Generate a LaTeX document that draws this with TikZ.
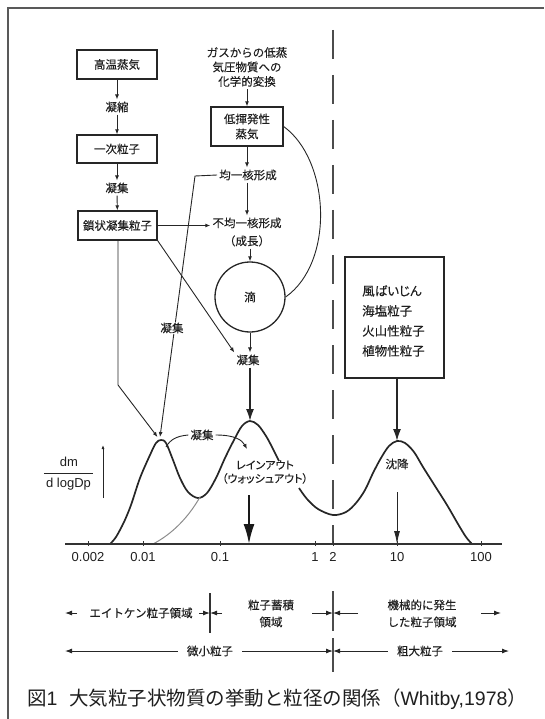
\documentclass[tikz,border=0pt]{standalone}
\usepackage{fontspec}
\setmainfont{Noto Sans CJK JP}[FakeBold=0.2]
\newfontfamily\pfont{Noto Sans CJK JP}[RawFeature=+palt,FakeBold=0.2]
\newfontfamily\capfont{Noto Sans CJK JP}
\newfontfamily\lat{Liberation Sans}
\usetikzlibrary{arrows.meta}
\begin{document}
\begin{tikzpicture}[x=1pt,y=-1pt,
  every node/.style={inner sep=2pt,text=black!88},
  t/.style={font=\fontsize{11.5}{14.5}\selectfont},
  box/.style={draw=black!85,line width=1.3pt,align=center,font=\fontsize{11.5}{15}\selectfont,inner sep=0pt},
  conn/.style={draw=black!85,line width=0.9pt},
  sa/.style={conn,-{Latex[length=5pt,width=4pt]}},
  ra/.style={conn,-{Latex[length=7pt,width=5pt]}},
  mid/.style={draw=black!85,line width=1.6pt,-{Latex[length=12pt,width=8pt]}},
  big/.style={draw=black!90,line width=2pt,-{Latex[length=20pt,width=11pt]}},
  dist/.style={draw=black!85,line width=1.7pt},
  divd/.style={draw=black!70,line width=1.4pt,dash pattern=on 29pt off 16pt},
  row/.style={font=\fontsize{11.5}{17}\selectfont,align=center,inner sep=7pt},
  num/.style={font=\lat\fontsize{13}{15}\selectfont}
]
\useasboundingbox (0,0) rectangle (544,719);
% frame
\draw[black!65,line width=1.6pt] (8,719) -- (8,8) -- (544,8);

% left column
\node[box,minimum width=80pt,minimum height=29pt] (b1) at (117,64.5) {高温蒸気};
\node[t] (n1) at (117,107) {凝縮};
\node[box,minimum width=80pt,minimum height=28pt] (b2) at (117,149) {一次粒子};
\node[t] (n2) at (117,188) {凝集};
\node[box,minimum width=79pt,minimum height=29pt] (b3) at (117.5,225.5) {鎖状凝集粒子};
\draw[sa] (b1) -- (n1);
\draw[sa] (n1) -- (b2);
\draw[sa] (b2) -- (n2);
\draw[sa] (n2) -- (b3);

% middle column
\node[t,align=center] (gas) at (247,67) {ガスからの低蒸\\気圧物質への\\化学的変換};
\node[box,minimum width=72pt,minimum height=39pt] (b4) at (247,126.5) {低揮発性\\蒸気};
\node[t] (hom) at (248,175) {均一核形成};
\node[t,align=center,font=\fontsize{11.5}{18}\selectfont] (het) at (247,232) {不均一核形成\\（成長）};
\node[circle,draw=black!85,line width=1.3pt,minimum size=70pt,inner sep=0pt,font=\fontsize{11.5}{14}\selectfont] (drop) at (250,297) {滴};
\node[t] (agg2) at (248,360) {凝集};
\draw[sa] (gas.south -| b4) -- (b4.north);
\draw[sa] (b4.south) -- (b4.south |- hom.north);
\draw[sa] (b4.south |- hom.south) -- (b4.south |- het.north);
\draw[sa] (het.south -| drop) -- (drop.north);
\draw[sa] (drop.south) -- (drop.south |- agg2.north);
\draw[conn] (b4.east) .. controls (330,160) and (335,262) .. (drop.east);

% peaks
\coordinate (p1) at (160,440);
\coordinate (p1a) at (157.5,437);
\coordinate (p1b) at (160,437);
\coordinate (p2) at (250,421);
\coordinate (p3) at (397,441);

% connectors from chain agglomerates
\coordinate (bend) at (118,385);
\draw[sa] (b3.south -| bend) -- (bend) -- (p1a);
\draw[sa] (b3.south east) -- (agg2.north west);
\draw[sa] (b3.east) -- (het.west |- b3.east);
\coordinate (hk) at (195,176);
\draw[sa] (hom.west) -- (hk) -- (p1b);
\node[t,fill=white,inner sep=1pt] (agg1) at (172,328) {凝集};

% dashed divider
\coordinate (dtop) at (333,30);
\coordinate (dbot) at (333,544);
\draw[divd] (dtop) -- (dbot);

% coarse sources box
\node[draw=black!85,line width=1.3pt,minimum width=99pt,minimum height=121pt,inner sep=0pt] (b5) at (394.5,317.5) {};
\node[font=\pfont\fontsize{12.5}{20}\selectfont,align=left,anchor=west] (b5t) at (360,321) {風ばいじん\\海塩粒子\\火山性粒子\\植物性粒子};
\draw[mid] (b5.south -| p3) -- (p3);

% big arrow into accumulation peak
\draw[mid] (agg2.south -| p2) -- (p2);

% distribution curve
\draw[dist] plot[smooth,tension=0.55] coordinates {(110,544) (116,537) (124,522) (131,505) (140,478) (150,455) (156,443) (161,440) (166,443) (173,460) (180,478) (188,492) (198,498) (207,493) (216,478) (225,458) (234,440) (242,426) (250,421) (258,425) (266,436) (272,447) (279,461)};
\draw[dist] plot[smooth,tension=0.55] coordinates {(299,488) (307,499) (318,509) (333,515) (346,512) (356,503) (365,490) (373,473) (381,458) (389,446) (397,441) (405,443) (414,452) (423,467) (435,486) (447,505) (458,524) (466,537) (472,544)};
\draw[black!45,line width=1pt] (153,544) .. controls (172,534) and (188,518) .. (200,497);

% agglomeration between modes
\node[t] (agg3) at (202,435) {凝集};
\coordinate (c1) at (166,447);
\coordinate (c2) at (247,449);
\draw[conn] (agg3.west) .. controls (176,436) and (170,440) .. (c1);
\draw[sa] (agg3.east) .. controls (235,435) and (242,440) .. (c2);

% rainout
\node[align=center,font=\pfont\fontsize{11}{13.5}\selectfont] (rain) at (265,472) {レインアウト\\（ウォッシュアウト）};
\coordinate (r1) at (249,495);
\coordinate (r2) at (249,544);
\draw[big] (r1) -- (r2);

% sedimentation
\node[t] (sed) at (397,464) {沈降};
\coordinate (s1) at (397,492);
\coordinate (s2) at (397,544);
\draw[conn,-{Latex[length=13pt,width=6pt]}] (s1) -- (s2);

% y label
\node[num] (dm) at (69,462) {dm};
\node[num] (dlog) at (68.5,484) {d logDp};
\draw[black!85,line width=0.8pt] (dlog.north west |- 0,473) -- (dlog.north east |- 0,473);
\coordinate (ya) at (103,498);
\coordinate (yb) at (103,445);
\draw[conn,-{Latex[length=4pt,width=3pt]}] (ya) -- (yb);

% axis
\coordinate (ax0) at (65,544);
\coordinate (ax1) at (502,544);
\draw[black!80,line width=1.8pt] (ax0) -- (ax1);
\foreach \xx/\lab/\nm in {88/0.002/l1,143/0.01/l2,220/0.1/l3,315/1/l4,333/2/l5,397/10/l6,481/100/l7}{
  \draw[black!80,line width=0.8pt] (\xx,541) -- (\xx,546);
  \node[num] (\nm) at (\xx,557) {\lab};
}

% region labels
\node[row] (aitken) at (141,613) {エイトケン粒子領域};
\node[row] (accum) at (271,613.5) {粒子蓄積\\領域};
\node[row] (mech) at (422,613.5) {機械的に発生\\した粒子領域};
\coordinate (d1t) at (210,593);
\coordinate (d1b) at (210,633);
\draw[black!80,line width=1.2pt] (d1t) -- (d1b);
\coordinate (a0) at (65,613);
\coordinate (a1) at (77,613);
\draw[ra] (a1) -- (a0);
\coordinate (a2) at (199,613);
\draw[ra] (a2) -- (d1t |- a2);
\coordinate (a3) at (222,613);
\draw[ra] (a3) -- (d1t |- a3);
\coordinate (m0) at (312,613);
\coordinate (m1) at (358,613);
\coordinate (dv) at (333,613);
\draw[ra] (m0) -- (dv);
\draw[ra] (m1) -- (dv);
\coordinate (e0) at (481,613);
\coordinate (e1) at (501,613);
\draw[ra] (e0) -- (e1);

\node[row,inner sep=9pt] (fine) at (210,651) {微小粒子};
\node[row,inner sep=9pt] (coarse) at (420,651) {粗大粒子};
\coordinate (g0) at (65,651);
\coordinate (gd) at (333,651);
\coordinate (g1) at (509,651);
\draw[ra] (fine.west) -- (g0);
\draw[ra] (fine.east) -- (gd);
\draw[ra] (coarse.west) -- (gd);
\draw[ra] (coarse.east) -- (g1);
\coordinate (dl0) at (333,591);
\coordinate (dl1) at (333,672);
\draw[divd,dash pattern=on 40pt off 7pt] (dl0) -- (dl1);

% caption
\node[font=\capfont\fontsize{19.5}{24}\selectfont,inner sep=0pt] (cap) at (277,699) {図{\lat 1}\hspace{0.6em}大気粒子状物質の挙動と粒径の関係（{\lat Whitby,1978}）};
\end{tikzpicture}
\end{document}
